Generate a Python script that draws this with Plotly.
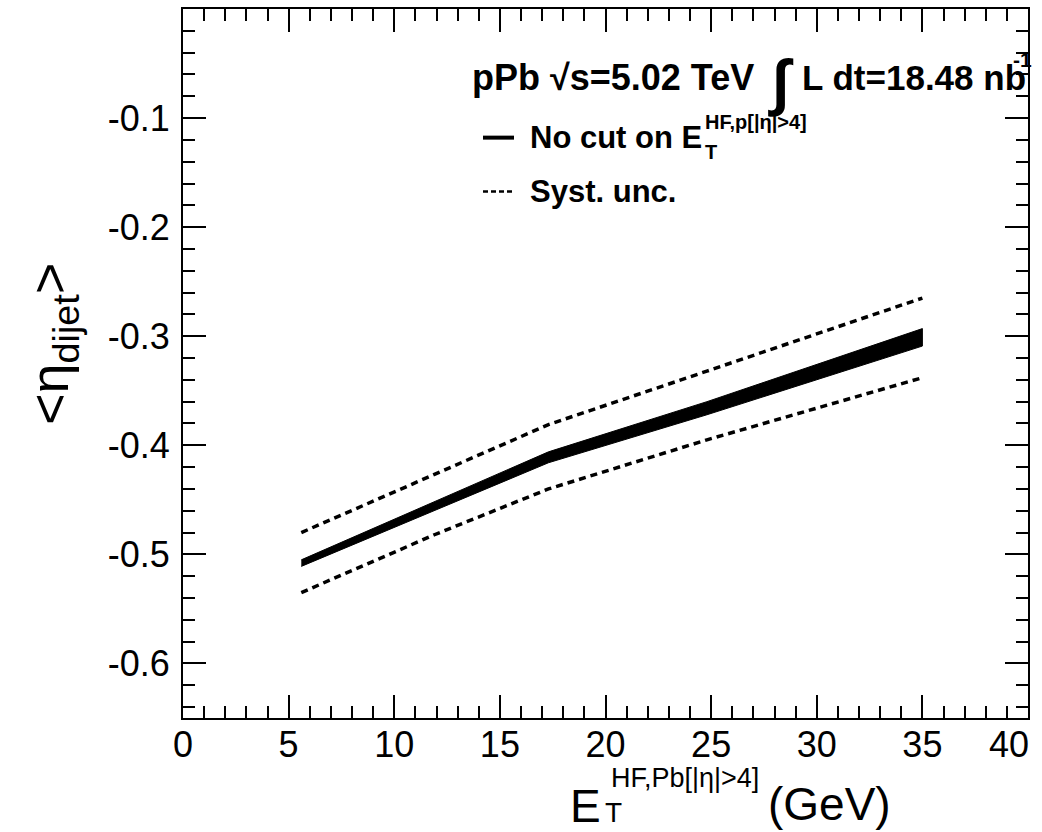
import plotly.graph_objects as go

# ---- data ----
et = [5.6, 11.9, 17.3, 24.8, 35.0]
eta_mean = [-0.508, -0.456, -0.411, -0.366, -0.301]
stat_err = [0.003, 0.004, 0.005, 0.006, 0.008]
syst_up = [-0.480, -0.427, -0.381, -0.332, -0.265]
syst_dn = [-0.535, -0.482, -0.440, -0.395, -0.338]

x_tick_vals = [0, 5, 10, 15, 20, 25, 30, 35, 40]
x_tick_text = ["0", "5", "10", "15", "20", "25", "30", "35", "40"]
y_tick_vals = [-0.6, -0.5, -0.4, -0.3, -0.2, -0.1]
y_tick_text = ["-0.6", "-0.5", "-0.4", "-0.3", "-0.2", "-0.1"]

W, H = 1042, 832
L, R, T, B = 183, 1028, 7, 718
FONT = "Liberation Sans"


def px(xp):
    return (xp - L) / (R - L)


def py(yp):
    return (B - yp) / (B - T)


band_x = et + et[::-1]
band_y = [m + e for m, e in zip(eta_mean, stat_err)] + \
         [m - e for m, e in zip(eta_mean, stat_err)][::-1]

fig = go.Figure()
fig.add_trace(go.Scatter(x=band_x, y=band_y, fill="toself", fillcolor="black",
                         mode="lines", line=dict(color="black", width=1),
                         showlegend=False, hoverinfo="skip"))
fig.add_trace(go.Scatter(x=et, y=syst_up, mode="lines",
                         line=dict(color="black", width=3.5, dash="7px,5px"),
                         showlegend=False))
fig.add_trace(go.Scatter(x=et, y=syst_dn, mode="lines",
                         line=dict(color="black", width=3.5, dash="7px,5px"),
                         showlegend=False))

tickfont = dict(family=FONT, size=36, color="black")
# last x label is drawn separately, pulled inside the page as in the reference
x_text_axis = x_tick_text[:-1] + [""]
fig.update_xaxes(range=[0, 40], tickmode="array", tickvals=x_tick_vals, ticktext=x_text_axis,
                 ticks="inside", ticklen=23, tickwidth=1.5, tickcolor="black",
                 mirror="allticks", showline=True, linecolor="black", linewidth=2,
                 showgrid=False, zeroline=False, tickfont=tickfont, ticklabelstandoff=-6,
                 minor=dict(tickmode="linear", tick0=0, dtick=1, ticks="inside",
                            ticklen=12, tickwidth=1.5, tickcolor="black", showgrid=False))
fig.update_yaxes(range=[-0.65, 0], tickmode="array", tickvals=y_tick_vals, ticktext=y_tick_text,
                 ticks="inside", ticklen=23, tickwidth=1.5, tickcolor="black",
                 mirror="allticks", showline=True, linecolor="black", linewidth=2,
                 showgrid=False, zeroline=False, tickfont=tickfont, ticklabelstandoff=4,
                 minor=dict(tickmode="linear", tick0=0, dtick=0.02, ticks="inside",
                            ticklen=12, tickwidth=1.5, tickcolor="black", showgrid=False))

ann = []


def text(s, x, y, size, xanchor="left", yanchor="middle", angle=0, bold=False):
    if bold:
        s = "<b>" + s + "</b>"
    ann.append(dict(text=s, x=px(x), y=py(y), xref="paper", yref="paper",
                    xanchor=xanchor, yanchor=yanchor, showarrow=False, textangle=angle,
                    font=dict(family=FONT, size=size, color="black")))


# last x tick label
ann.append(dict(text=x_tick_text[-1], x=x_tick_vals[-1], y=py(745), xref="x", yref="paper",
                xanchor="right", yanchor="middle", showarrow=False, xshift=3,
                font=tickfont))

# header
text("pPb √s=5.02 TeV", 470, 76, 36, bold=True)
text("∫", 781, 80, 62, xanchor="center", bold=True)
text("L dt=18.48 nb", 800, 76, 35, bold=True)
text("-1", 1011, 58, 21, bold=True)

# legend
text("No cut on E", 528, 136, 31, bold=True)
text("HF,p[|η|>4]", 703, 120, 20, bold=True)
text("T", 703, 150, 20, bold=True)
text("Syst. unc.", 528, 190, 31, bold=True)

# y title
text("&lt;η<sub>dijet</sub>&gt;", 53, 343, 54, xanchor="center", angle=-90)

# x title
text("E", 568, 806, 46)
text("T", 603, 813, 28)
text("HF,Pb[|η|>4]", 609, 778, 27)
text("(GeV)", 766, 804, 46)

fig.update_layout(annotations=ann)

fig.add_shape(type="line", xref="paper", yref="paper", x0=px(483), x1=px(514),
              y0=py(136), y1=py(136), line=dict(color="black", width=4))
fig.add_shape(type="line", xref="paper", yref="paper", x0=px(483), x1=px(514),
              y0=py(190), y1=py(190), line=dict(color="black", width=2.5, dash="5px,3px"))

fig.update_layout(width=W, height=H, margin=dict(l=L, r=W - R, t=T, b=H - B),
                  plot_bgcolor="white", paper_bgcolor="white", showlegend=False)

fig.write_html("out.html")
